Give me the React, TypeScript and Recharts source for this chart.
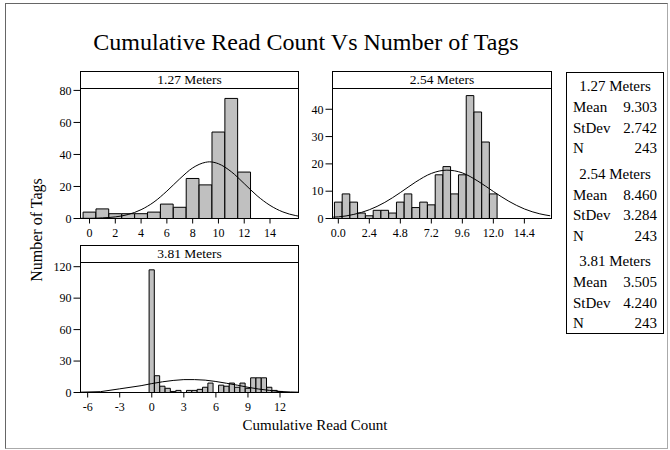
import React from 'react';
import { ComposedChart, Bar, Line, XAxis, YAxis } from 'recharts';

const FONT = '"Liberation Serif", "Times New Roman", Times, serif';

// ---- Panel 1: 1.27 Meters ----
const bins127 = [0, 1, 2, 3, 4, 5, 6, 7, 8, 9, 10, 11, 12];
const counts127 = [4, 6, 3, 3, 3, 4, 9, 7, 25, 21, 54, 75, 29];
const fitX127 = [-0.7, 0, 1, 2, 3, 4, 5, 6, 7, 8, 9, 9.3, 10, 11, 12, 13, 14, 15, 16, 16.2];
const fitY127 = [0.1, 0.1, 0.4, 1.0, 2.5, 5.5, 10.3, 17.1, 24.8, 31.6, 35.1, 35.4, 34.2, 29.2, 21.8, 14.2, 8.2, 4.1, 1.8, 1.5];
const xTicks127 = [0, 2, 4, 6, 8, 10, 12, 14];
const yTicks127 = [0, 20, 40, 60, 80];

// ---- Panel 2: 2.54 Meters ----
const bins254 = [0, 0.6, 1.2, 1.8, 2.4, 3.0, 3.6, 4.2, 4.8, 5.4, 6.0, 6.6, 7.2, 7.8, 8.4, 9.0, 9.6, 10.2, 10.8, 11.4, 12.0];
const counts254 = [6, 9, 6, 2, 1, 3, 3, 2, 6, 9, 4, 6, 5, 16, 19, 9, 16, 45, 39, 28, 9];
const fitX254 = [-0.4, 0, 1.2, 2.4, 3.6, 4.8, 6.0, 7.2, 8.4, 9.6, 10.8, 12.0, 13.2, 14.4, 15.6, 16.4];
const fitY254 = [0.5, 0.6, 1.5, 3.2, 5.9, 9.5, 13.4, 16.5, 17.7, 16.7, 13.7, 9.9, 6.3, 3.5, 1.7, 1.0];
const xTicks254 = [0, 2.4, 4.8, 7.2, 9.6, 12.0, 14.4];
const yTicks254 = [0, 10, 20, 30, 40];

// ---- Panel 3: 3.81 Meters ----
const bins381 = [0, 0.5, 1, 1.5, 2, 2.5, 3, 3.5, 4, 4.5, 5, 5.5, 6, 6.5, 7, 7.5, 8, 8.5, 9, 9.5, 10, 10.5, 11, 11.5, 12];
const counts381 = [117, 16, 6, 4, 1, 2, 0, 2, 2, 3, 5, 9, 0, 7, 6, 9, 5, 9, 4, 14, 14, 14, 5, 2, 1];
const fitX381 = [-6.7, -4.8, -3, -1, 0, 1, 2, 3, 4, 5, 6, 7, 8, 9, 10, 11, 12, 13, 13.7];
const fitY381 = [0.3, 0.8, 3.5, 6.5, 8.5, 10.2, 11.5, 12.3, 12.3, 11.8, 10.5, 8.8, 7.0, 5.0, 3.3, 2.0, 1.0, 0.5, 0.3];
const xTicks381 = [-6, -3, 0, 3, 6, 9, 12];
const yTicks381 = [0, 30, 60, 90, 120];

// ---- Summary box ----
const legendNames = ['1.27 Meters', '2.54 Meters', '3.81 Meters'];
const legendMeans = ['9.303', '8.460', '3.505'];
const legendStDevs = ['2.742', '3.284', '4.240'];
const legendNs = ['243', '243', '243'];

const TITLE = 'Cumulative Read Count Vs Number of Tags';
const X_TITLE = 'Cumulative Read Count';
const Y_TITLE = 'Number of Tags';

type PanelProps = {
  title: string;
  L: number; R: number; headerTop: number; T: number; B: number;
  xDomain: [number, number]; yDomain: [number, number];
  xTicks: number[]; yTicks: number[];
  bins: number[]; counts: number[]; fitX: number[]; fitY: number[];
  binWidth: number; fmt?: (v: number) => string; curveType: 'monotone' | 'linear';
};

function Panel(p: PanelProps) {
  const hist = p.bins.map((x, i) => ({ x, count: p.counts[i] }));
  const fit = p.fitX.map((x, i) => ({ x, fit: p.fitY[i] }));
  const pxPerUnit = (p.R - p.L) / (p.xDomain[1] - p.xDomain[0]);
  const barSize = pxPerUnit * p.binWidth - 0.15;
  const tickStyle = { fill: '#000', fontSize: 12, fontFamily: FONT };
  return (
    <>
      <div style={{ position: 'absolute', left: p.L, top: p.headerTop, width: p.R - p.L + 1, height: p.B - p.headerTop + 1, boxSizing: 'border-box', border: '1px solid #000' }} />
      <div style={{ position: 'absolute', left: p.L, top: p.headerTop, width: p.R - p.L + 1, height: p.T - p.headerTop + 1, boxSizing: 'border-box', border: '1px solid #000', fontFamily: FONT, fontSize: 13.5, lineHeight: `${p.T - p.headerTop - 1}px`, textAlign: 'center', color: '#000' }}>{p.title}</div>
      <div style={{ position: 'absolute', left: p.L - 60, top: p.T - 3 }}>
        <ComposedChart width={p.R - p.L + 63} height={p.B - p.T + 34} data={hist} margin={{ top: 3.5, right: 2.5, bottom: 0.5, left: 0.5 }}>
          <XAxis type="number" dataKey="x" domain={p.xDomain} ticks={p.xTicks} allowDataOverflow interval={0} height={30}
            tickSize={5} tickMargin={5} tick={tickStyle} tickFormatter={p.fmt}
            axisLine={{ stroke: '#000' }} tickLine={{ stroke: '#000' }} />
          <XAxis xAxisId="fit" type="number" dataKey="x" domain={p.xDomain} allowDataOverflow hide />
          <YAxis type="number" domain={p.yDomain} ticks={p.yTicks} allowDataOverflow interval={0} width={60}
            tickSize={7} tickMargin={2} tick={tickStyle}
            axisLine={{ stroke: '#000' }} tickLine={{ stroke: '#000' }} />
          <Bar dataKey="count" fill="#c0c0c0" stroke="#000" strokeWidth={1} barSize={barSize} isAnimationActive={false} />
          <Line xAxisId="fit" data={fit} dataKey="fit" type={p.curveType} stroke="#000" strokeWidth={1} dot={false} isAnimationActive={false} />
        </ComposedChart>
      </div>
    </>
  );
}

function Legend() {
  const rowH = 20.5;
  const rows: React.ReactNode[] = [];
  legendNames.forEach((name, g) => {
    rows.push(<div key={`h${g}`} style={{ height: 22, lineHeight: '22px', marginTop: g > 0 ? 4 : 0, textAlign: 'center' }}>{name}</div>);
    const items: [string, string][] = [['Mean', legendMeans[g]], ['StDev', legendStDevs[g]], ['N', legendNs[g]]];
    items.forEach(([k, v], j) => {
      rows.push(
        <div key={`r${g}${j}`} style={{ height: rowH, lineHeight: `${rowH}px`, display: 'flex', justifyContent: 'space-between', padding: '0 6px' }}>
          <span>{k}</span><span>{v}</span>
        </div>
      );
    });
  });
  return (
    <div style={{ position: 'absolute', left: 566, top: 72, width: 98, height: 262, boxSizing: 'border-box', border: '1px solid #000', fontFamily: FONT, fontSize: 15, color: '#000', paddingTop: 2 }}>
      {rows}
    </div>
  );
}

export default function App() {
  return (
    <div style={{ position: 'absolute', left: 0, top: 0, width: 670, height: 450, background: '#fff', overflow: 'hidden' }}>
      <div style={{ position: 'absolute', left: 5, top: 3, width: 663, height: 446, boxSizing: 'border-box', borderTop: '1px solid #666', borderLeft: '1px solid #666', borderRight: '1px solid #aaa', borderBottom: '1px solid #aaa' }} />
      <div style={{ position: 'absolute', left: 6, width: 600, top: 27, textAlign: 'center', fontFamily: FONT, fontSize: 24, lineHeight: '30px', color: '#000' }}>{TITLE}</div>
      <Panel title="1.27 Meters" L={80} R={298} headerTop={71} T={88} B={218}
        xDomain={[-0.7, 16.21]} yDomain={[0, 81.2]} xTicks={xTicks127} yTicks={yTicks127}
        bins={bins127} counts={counts127} fitX={fitX127} fitY={fitY127} binWidth={1} curveType="monotone" />
      <Panel title="2.54 Meters" L={332} R={551} headerTop={71} T={88} B={218}
        xDomain={[-0.45, 16.5]} yDomain={[0, 47.6]} xTicks={xTicks254} yTicks={yTicks254}
        bins={bins254} counts={counts254} fitX={fitX254} fitY={fitY254} binWidth={0.6}
        fmt={(v: number) => v.toFixed(1)} curveType="monotone" />
      <Panel title="3.81 Meters" L={80} R={298} headerTop={245} T={262} B={392}
        xDomain={[-6.67, 13.73]} yDomain={[0, 124]} xTicks={xTicks381} yTicks={yTicks381}
        bins={bins381} counts={counts381} fitX={fitX381} fitY={fitY381} binWidth={0.5} curveType="linear" />
      <Legend />
      <div style={{ position: 'absolute', left: 215, width: 200, top: 416, textAlign: 'center', fontFamily: FONT, fontSize: 15, lineHeight: '18px', color: '#000' }}>{X_TITLE}</div>
      <div style={{ position: 'absolute', left: 37 - 70, top: 230 - 9, width: 140, height: 18, textAlign: 'center', fontFamily: FONT, fontSize: 16, lineHeight: '18px', color: '#000', transform: 'rotate(-90deg)' }}>{Y_TITLE}</div>
    </div>
  );
}
